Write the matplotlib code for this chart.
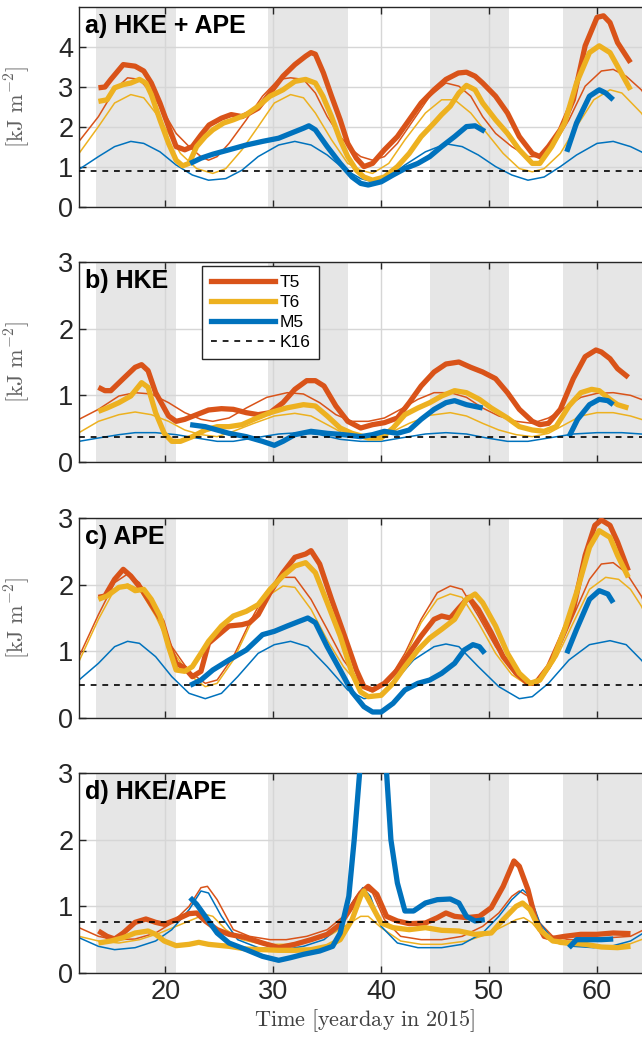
import matplotlib
matplotlib.use("Agg")
import matplotlib.pyplot as plt
from matplotlib.lines import Line2D

# spring-tide shading (yearday start, end)
bands = [(13.6, 21.0), (29.5, 36.9), (44.5, 51.8), (56.8, 65.5)]

# ---- a) HKE + APE -------------------------------------------------------
a_T5 = [(13.8, 2.98), (14.4, 3.00), (14.95, 3.19), (16.1, 3.56), (17.2, 3.52), (18.0, 3.40),
        (18.7, 3.10), (19.5, 2.60), (20.3, 2.01), (21.0, 1.51), (21.8, 1.43), (22.5, 1.51),
        (23.3, 1.80), (24.05, 2.05), (25.2, 2.22), (26.1, 2.31), (27.1, 2.26), (27.8, 2.35),
        (28.6, 2.47), (29.7, 2.85), (30.9, 3.27), (32.0, 3.56), (33.0, 3.77), (33.5, 3.86),
        (33.9, 3.82), (34.65, 3.35), (35.4, 2.77), (36.2, 2.18), (36.9, 1.59), (37.7, 1.22),
        (38.4, 1.01), (39.2, 1.09), (40.3, 1.43), (41.5, 1.76), (42.6, 2.18), (43.7, 2.60),
        (44.9, 2.93), (46.0, 3.19), (47.15, 3.35), (47.9, 3.37), (48.7, 3.27), (49.4, 3.10),
        (50.6, 2.77), (51.7, 2.35), (52.8, 1.76), (54.0, 1.34), (54.7, 1.26), (55.5, 1.51),
        (56.6, 1.93), (57.8, 2.68), (58.9, 4.03), (60.0, 4.74), (60.6, 4.78), (61.2, 4.61),
        (61.9, 4.11), (63.1, 3.61)]
a_T6 = [(13.8, 2.64), (14.6, 2.68), (15.3, 2.98), (16.1, 3.06), (16.8, 3.10), (17.6, 3.19),
        (18.2, 3.10), (18.7, 2.81), (19.5, 2.18), (20.3, 1.59), (21.0, 1.17), (21.6, 1.03),
        (22.2, 1.09), (22.9, 1.51), (23.7, 1.76), (24.4, 1.93), (25.4, 2.10), (26.3, 2.18),
        (27.5, 2.31), (28.6, 2.52), (29.7, 2.77), (30.9, 2.93), (32.0, 3.14), (33.0, 3.19),
        (33.9, 3.10), (34.6, 2.77), (35.4, 2.26), (36.2, 1.68), (36.9, 1.26), (37.7, 0.92),
        (38.4, 0.75), (39.2, 0.67), (40.3, 0.75), (41.5, 1.01), (42.6, 1.34), (43.7, 1.76),
        (44.9, 2.10), (45.6, 2.31), (46.4, 2.52), (47.2, 2.85), (47.9, 3.04), (48.7, 2.93),
        (49.4, 2.60), (50.6, 2.18), (51.7, 1.84), (52.8, 1.43), (54.0, 1.09), (54.7, 1.09),
        (55.8, 1.51), (57.0, 2.10), (58.1, 3.10), (59.3, 3.86), (60.2, 4.03), (61.2, 3.86),
        (61.9, 3.52), (63.1, 2.93)]
a_M5 = [(22.3, 1.09), (23.3, 1.22), (24.4, 1.32), (25.9, 1.43), (27.5, 1.55), (29.0, 1.64),
        (30.5, 1.72), (31.6, 1.84), (32.8, 1.97), (33.3, 2.03), (33.9, 1.93), (35.0, 1.51),
        (36.2, 1.09), (37.3, 0.75), (38.1, 0.59), (38.8, 0.55), (40.0, 0.63), (41.1, 0.80),
        (42.2, 0.96), (43.4, 1.09), (44.5, 1.26), (45.6, 1.51), (46.8, 1.76), (47.9, 2.01),
        (48.7, 2.03), (49.6, 1.89), (None, None),
        (57.2, 1.38), (58.1, 2.10), (59.3, 2.77), (60.2, 2.93), (60.8, 2.85), (61.5, 2.68)]
a_T5_fit = [(12.0, 1.64), (13.8, 2.26), (15.3, 2.93), (16.5, 3.23), (17.6, 3.19), (18.7, 2.85),
            (19.9, 2.35), (21.0, 1.84), (22.2, 1.51), (23.3, 1.26), (24.0, 1.17), (24.8, 1.26),
            (25.9, 1.59), (27.5, 2.18), (29.0, 2.77), (30.5, 3.19), (31.6, 3.23), (32.8, 3.19),
            (33.9, 2.85), (35.0, 2.26), (36.2, 1.76), (37.3, 1.43), (38.1, 1.26), (39.2, 1.17),
            (40.3, 1.26), (41.5, 1.59), (43.0, 2.18), (44.5, 2.77), (46.0, 3.10), (47.2, 3.02),
            (48.3, 2.77), (49.4, 2.26), (50.6, 1.84), (52.1, 1.51), (53.6, 1.26), (54.7, 1.26),
            (55.9, 1.51), (57.4, 2.18), (58.9, 3.02), (60.4, 3.40), (61.5, 3.44), (62.7, 3.27),
            (64.1, 2.93), (65.5, 2.40)]
a_T6_fit = [(12.0, 1.34), (13.8, 2.01), (15.3, 2.60), (16.8, 2.81), (18.0, 2.73), (19.1, 2.35),
            (20.3, 1.84), (21.4, 1.34), (22.9, 0.96), (24.4, 0.84), (25.6, 0.96), (27.1, 1.43),
            (28.6, 2.01), (30.1, 2.60), (31.6, 2.81), (32.8, 2.73), (33.9, 2.35), (35.4, 1.68),
            (36.9, 1.09), (38.1, 0.92), (39.2, 0.84), (40.7, 1.09), (42.2, 1.68), (44.1, 2.35),
            (45.6, 2.68), (46.8, 2.68), (48.3, 2.35), (49.8, 1.84), (51.3, 1.34), (52.8, 0.96),
            (54.0, 0.88), (55.1, 0.96), (56.6, 1.34), (58.1, 2.01), (59.7, 2.68), (61.2, 2.93),
            (62.3, 2.85), (64.1, 2.35), (65.5, 1.80)]
a_M5_fit = [(12.0, 0.94), (13.8, 1.26), (15.3, 1.51), (16.8, 1.64), (18.0, 1.59), (19.5, 1.38),
            (21.0, 1.05), (22.5, 0.80), (24.0, 0.67), (25.6, 0.71), (27.1, 0.92), (28.6, 1.26),
            (30.5, 1.55), (32.0, 1.64), (33.5, 1.55), (35.0, 1.30), (36.5, 0.96), (38.1, 0.71),
            (39.2, 0.63), (40.7, 0.75), (42.2, 1.05), (44.1, 1.38), (46.0, 1.58), (47.5, 1.51),
            (49.0, 1.30), (50.6, 1.01), (52.1, 0.80), (53.6, 0.67), (55.1, 0.75), (56.6, 1.01),
            (58.1, 1.30), (60.0, 1.59), (61.5, 1.64), (63.1, 1.51), (64.1, 1.38), (65.5, 1.15)]
a_K16 = 0.91

# ---- b) HKE ---------------------------------------------------------------
b_T5 = [(13.8, 1.12), (14.4, 1.07), (14.95, 1.07), (16.1, 1.25), (17.2, 1.42), (17.8, 1.46),
        (18.4, 1.37), (19.1, 1.04), (20.3, 0.69), (21.0, 0.61), (21.8, 0.64), (22.9, 0.71),
        (24.0, 0.78), (25.2, 0.80), (26.3, 0.79), (27.5, 0.74), (28.6, 0.71), (29.7, 0.74),
        (30.9, 0.89), (32.0, 1.09), (33.1, 1.22), (33.9, 1.22), (34.7, 1.14), (35.8, 0.84),
        (36.9, 0.61), (38.1, 0.51), (39.2, 0.56), (40.3, 0.59), (41.5, 0.66), (42.6, 0.89),
        (43.7, 1.14), (44.9, 1.35), (46.0, 1.47), (47.2, 1.50), (48.3, 1.42), (49.4, 1.35),
        (50.6, 1.25), (51.7, 1.04), (52.8, 0.79), (54.0, 0.61), (54.7, 0.56), (55.5, 0.58),
        (56.6, 0.79), (57.8, 1.25), (58.9, 1.58), (59.9, 1.68), (60.4, 1.65), (61.2, 1.55),
        (61.9, 1.40), (62.9, 1.27)]
b_T6 = [(13.8, 0.76), (14.6, 0.81), (15.7, 0.89), (16.8, 0.99), (17.8, 1.19), (18.4, 1.12),
        (19.1, 0.74), (19.9, 0.43), (20.6, 0.31), (21.4, 0.31), (22.5, 0.38), (23.7, 0.48),
        (24.8, 0.53), (25.9, 0.53), (27.1, 0.56), (28.2, 0.64), (29.7, 0.74), (31.2, 0.81),
        (32.8, 0.86), (33.9, 0.84), (35.0, 0.69), (36.2, 0.51), (37.3, 0.43), (38.8, 0.36),
        (40.0, 0.36), (41.1, 0.51), (42.2, 0.71), (43.4, 0.81), (44.5, 0.89), (45.6, 0.99),
        (46.8, 1.07), (47.9, 1.04), (49.1, 0.94), (50.2, 0.81), (51.7, 0.66), (52.8, 0.53),
        (54.0, 0.48), (55.1, 0.46), (56.2, 0.53), (57.4, 0.84), (58.5, 1.04), (59.5, 1.09),
        (60.2, 1.07), (61.2, 0.94), (61.9, 0.86), (62.9, 0.81)]
b_M5 = [(22.3, 0.56), (23.7, 0.53), (24.8, 0.48), (25.9, 0.43), (27.5, 0.38), (29.0, 0.31),
        (30.1, 0.25), (30.9, 0.31), (32.0, 0.41), (33.5, 0.46), (35.0, 0.43), (36.5, 0.41),
        (38.1, 0.38), (39.2, 0.41), (40.3, 0.46), (41.5, 0.43), (42.6, 0.48), (43.7, 0.64),
        (44.9, 0.79), (46.0, 0.89), (46.8, 0.92), (47.9, 0.86), (49.4, 0.81), (None, None),
        (57.4, 0.38), (58.2, 0.64), (59.3, 0.86), (60.2, 0.94), (61.0, 0.92), (61.5, 0.86)]
b_T5_fit = [(12.0, 0.64), (13.8, 0.79), (15.7, 0.99), (17.2, 1.04), (18.7, 1.02), (20.3, 0.89),
            (21.8, 0.74), (23.3, 0.64), (24.4, 0.61), (25.9, 0.66), (27.5, 0.81), (29.4, 0.97),
            (31.3, 1.04), (32.8, 1.02), (34.3, 0.89), (35.8, 0.71), (37.3, 0.61), (38.8, 0.61),
            (40.3, 0.66), (41.8, 0.79), (43.4, 0.94), (44.9, 1.04), (46.4, 1.04), (47.9, 0.97),
            (49.4, 0.81), (50.9, 0.69), (52.5, 0.61), (54.0, 0.58), (55.5, 0.66), (57.0, 0.81),
            (58.5, 0.97), (60.0, 1.03), (61.5, 1.04), (63.1, 1.00), (64.1, 0.94), (65.5, 0.85)]
b_T6_fit = [(12.0, 0.44), (13.8, 0.61), (15.7, 0.71), (17.2, 0.75), (18.7, 0.71), (20.3, 0.61),
            (21.8, 0.48), (23.3, 0.41), (24.8, 0.38), (26.3, 0.46), (28.2, 0.58), (30.1, 0.69),
            (32.0, 0.73), (33.5, 0.69), (35.0, 0.56), (36.5, 0.43), (38.1, 0.38), (39.6, 0.38),
            (41.1, 0.46), (42.6, 0.58), (44.5, 0.70), (46.4, 0.74), (47.9, 0.69), (49.4, 0.58),
            (50.9, 0.48), (52.5, 0.41), (54.0, 0.38), (55.5, 0.43), (57.0, 0.56), (58.5, 0.69),
            (60.0, 0.74), (61.5, 0.74), (63.1, 0.69), (64.1, 0.64), (65.5, 0.56)]
b_M5_fit = [(12.0, 0.31), (13.8, 0.36), (15.7, 0.41), (17.2, 0.44), (19.1, 0.44), (21.0, 0.41),
            (22.9, 0.36), (24.8, 0.31), (26.3, 0.31), (28.2, 0.36), (30.5, 0.42), (32.4, 0.44),
            (34.3, 0.41), (36.2, 0.34), (38.1, 0.31), (40.0, 0.31), (41.8, 0.36), (44.1, 0.42),
            (46.0, 0.44), (47.9, 0.42), (49.8, 0.36), (51.7, 0.31), (53.6, 0.31), (55.5, 0.36),
            (57.8, 0.42), (60.0, 0.44), (62.3, 0.44), (64.1, 0.42), (65.5, 0.39)]
b_K16 = 0.38

# ---- c) APE ---------------------------------------------------------------
c_T5 = [(13.8, 1.81), (14.4, 1.83), (15.3, 2.08), (16.1, 2.23), (16.8, 2.13), (17.8, 1.93),
        (18.7, 1.70), (19.7, 1.45), (20.4, 1.07), (21.0, 0.82), (21.8, 0.75), (22.5, 0.62),
        (23.3, 0.70), (24.0, 1.12), (24.8, 1.23), (25.9, 1.38), (27.1, 1.40), (27.8, 1.43),
        (28.6, 1.55), (29.7, 1.88), (30.9, 2.18), (32.0, 2.41), (33.0, 2.46), (33.5, 2.51),
        (34.3, 2.31), (35.4, 1.78), (36.5, 1.28), (37.7, 0.72), (38.4, 0.47), (39.2, 0.42),
        (40.3, 0.52), (41.5, 0.72), (42.6, 0.97), (43.7, 1.23), (44.9, 1.48), (45.6, 1.53),
        (46.4, 1.50), (47.2, 1.65), (48.1, 1.81), (49.0, 1.63), (50.2, 1.28), (51.3, 0.92),
        (52.5, 0.67), (53.6, 0.52), (54.3, 0.52), (55.5, 0.77), (56.6, 1.17), (57.8, 1.63),
        (58.9, 2.44), (59.8, 2.89), (60.4, 2.97), (61.2, 2.89), (61.9, 2.64), (62.9, 2.21)]
c_T6 = [(13.8, 1.78), (14.6, 1.83), (15.7, 1.96), (16.5, 1.98), (17.2, 1.91), (18.0, 1.93),
        (18.7, 1.78), (19.5, 1.53), (20.3, 1.07), (21.0, 0.72), (21.8, 0.70), (22.5, 0.77),
        (23.3, 0.97), (24.0, 1.15), (25.2, 1.38), (26.3, 1.53), (27.5, 1.60), (28.6, 1.70),
        (29.7, 1.93), (30.9, 2.13), (32.0, 2.28), (33.0, 2.33), (33.9, 2.18), (35.0, 1.73),
        (36.2, 1.23), (37.3, 0.67), (38.1, 0.39), (38.8, 0.32), (40.0, 0.34), (41.1, 0.52),
        (42.2, 0.77), (43.4, 1.02), (44.5, 1.20), (45.6, 1.33), (46.8, 1.48), (47.9, 1.78),
        (48.7, 1.86), (49.4, 1.73), (50.6, 1.38), (51.7, 0.97), (52.8, 0.67), (53.8, 0.52),
        (54.7, 0.57), (55.9, 0.87), (57.0, 1.33), (58.1, 1.88), (59.3, 2.56), (60.2, 2.81),
        (61.2, 2.71), (61.9, 2.44), (62.9, 2.11)]
c_M5 = [(22.3, 0.49), (23.3, 0.57), (24.4, 0.72), (25.9, 0.87), (27.5, 1.02), (29.0, 1.25),
        (30.1, 1.30), (31.3, 1.38), (32.4, 1.45), (33.2, 1.50), (33.9, 1.43), (35.0, 1.07),
        (36.2, 0.72), (37.3, 0.39), (38.4, 0.17), (39.2, 0.09), (40.0, 0.09), (41.1, 0.22),
        (42.2, 0.42), (43.4, 0.52), (44.5, 0.57), (45.6, 0.67), (46.8, 0.82), (47.7, 1.02),
        (48.5, 1.10), (49.1, 1.07), (49.6, 0.97), (None, None),
        (57.2, 0.97), (58.1, 1.33), (59.3, 1.78), (60.2, 1.91), (61.0, 1.86), (61.5, 1.73)]
c_T5_fit = [(12.0, 0.92), (13.8, 1.55), (15.3, 2.03), (16.5, 2.16), (17.6, 2.03), (19.1, 1.58),
            (20.6, 1.07), (22.2, 0.70), (23.7, 0.52), (24.8, 0.57), (26.3, 0.92), (27.8, 1.43),
            (29.3, 1.88), (30.9, 2.11), (32.0, 2.11), (33.5, 1.78), (35.0, 1.33), (36.5, 0.87),
            (38.1, 0.52), (39.2, 0.44), (40.7, 0.57), (42.2, 0.97), (43.7, 1.48), (45.2, 1.88),
            (46.4, 1.98), (47.5, 1.93), (49.0, 1.53), (50.6, 1.07), (52.1, 0.72), (53.6, 0.52),
            (54.7, 0.57), (56.3, 0.97), (57.8, 1.53), (59.3, 2.08), (60.4, 2.31), (61.5, 2.33),
            (62.7, 2.18), (64.1, 1.83), (65.5, 1.30)]
c_T6_fit = [(12.0, 0.85), (13.8, 1.48), (15.3, 1.93), (16.5, 2.01), (17.6, 1.93), (19.1, 1.53),
            (20.6, 1.02), (22.2, 0.65), (23.7, 0.47), (24.8, 0.52), (26.3, 0.87), (27.8, 1.38),
            (29.3, 1.81), (30.9, 1.98), (32.0, 1.96), (33.5, 1.63), (35.0, 1.17), (36.5, 0.77),
            (38.1, 0.47), (39.2, 0.39), (40.7, 0.54), (42.2, 0.92), (43.7, 1.43), (45.2, 1.78),
            (46.4, 1.86), (47.5, 1.81), (49.0, 1.43), (50.6, 0.97), (52.1, 0.65), (53.6, 0.49),
            (54.7, 0.54), (56.3, 0.92), (57.8, 1.43), (59.3, 1.93), (60.8, 2.11), (62.0, 2.08),
            (63.1, 1.93), (64.1, 1.68), (65.5, 1.20)]
c_M5_fit = [(12.0, 0.57), (13.8, 0.82), (15.3, 1.07), (16.5, 1.15), (17.6, 1.12), (19.1, 0.92),
            (20.6, 0.62), (22.2, 0.37), (23.7, 0.29), (25.2, 0.37), (26.7, 0.62), (28.6, 0.97),
            (30.1, 1.10), (31.6, 1.15), (33.2, 1.07), (35.0, 0.77), (36.9, 0.42), (38.4, 0.29),
            (39.6, 0.32), (41.1, 0.52), (43.0, 0.87), (44.9, 1.07), (46.0, 1.11), (47.2, 1.07),
            (49.0, 0.77), (50.9, 0.47), (52.8, 0.29), (54.0, 0.32), (55.5, 0.52), (57.4, 0.87),
            (59.3, 1.10), (61.2, 1.16), (62.7, 1.10), (64.1, 0.87), (65.5, 0.60)]
c_K16 = 0.49

# ---- d) HKE/APE -----------------------------------------------------------
d_T5 = [(13.8, 0.63), (14.6, 0.55), (15.3, 0.51), (16.1, 0.60), (17.2, 0.76), (18.2, 0.81),
        (19.1, 0.76), (19.9, 0.73), (21.0, 0.80), (22.2, 0.89), (22.9, 0.90), (23.7, 0.78),
        (24.8, 0.65), (25.9, 0.58), (27.5, 0.53), (29.0, 0.45), (30.5, 0.38), (32.0, 0.43),
        (33.5, 0.50), (35.0, 0.58), (36.2, 0.73), (37.3, 1.00), (38.1, 1.20), (38.8, 1.30),
        (39.6, 1.18), (40.5, 0.85), (41.5, 0.78), (42.6, 0.74), (44.1, 0.75), (45.2, 0.83),
        (46.0, 0.90), (46.8, 0.85), (47.9, 0.83), (49.1, 0.85), (50.2, 0.98), (51.3, 1.30),
        (52.3, 1.68), (52.8, 1.60), (53.6, 1.25), (54.3, 0.80), (55.1, 0.55), (55.9, 0.52),
        (57.0, 0.55), (58.5, 0.58), (60.0, 0.58), (61.5, 0.60), (63.1, 0.59)]
d_T6 = [(13.8, 0.45), (14.95, 0.48), (16.1, 0.53), (17.2, 0.60), (18.4, 0.63), (19.1, 0.58),
        (19.9, 0.48), (21.0, 0.41), (22.2, 0.43), (23.1, 0.46), (24.0, 0.43), (25.9, 0.40),
        (27.5, 0.36), (29.0, 0.35), (30.5, 0.34), (32.0, 0.34), (33.5, 0.35), (35.0, 0.40),
        (36.2, 0.50), (37.3, 0.80), (38.1, 1.15), (38.4, 1.23), (39.0, 1.05), (40.0, 0.75),
        (41.1, 0.68), (42.6, 0.65), (44.1, 0.68), (45.6, 0.64), (47.2, 0.63), (48.7, 0.58),
        (50.2, 0.60), (51.3, 0.80), (52.5, 1.00), (53.1, 1.05), (53.8, 0.95), (54.7, 0.65),
        (55.9, 0.48), (57.4, 0.45), (58.9, 0.43), (60.4, 0.39), (61.9, 0.38), (63.1, 0.40)]
d_M5 = [(22.3, 1.13), (22.9, 1.03), (23.7, 0.85), (24.8, 0.60), (25.9, 0.45), (27.5, 0.35),
        (29.0, 0.25), (30.5, 0.19), (31.6, 0.23), (32.8, 0.28), (34.3, 0.33), (35.5, 0.40),
        (36.2, 0.60), (37.0, 1.15), (37.5, 2.00), (38.0, 3.00), (38.5, 4.80), (39.4, 7.00),
        (40.3, 4.60), (40.5, 3.00), (40.9, 2.00), (41.5, 1.35), (42.2, 0.93), (43.0, 0.93),
        (44.1, 1.05), (45.2, 1.10), (46.4, 1.11), (47.2, 1.05), (47.9, 0.85), (48.7, 0.78),
        (49.6, 0.80), (None, None),
        (57.4, 0.38), (58.1, 0.50), (59.3, 0.50), (60.4, 0.50), (61.5, 0.51)]
d_T5_fit = [(12.0, 0.68), (13.8, 0.55), (15.3, 0.50), (17.2, 0.51), (19.1, 0.60), (20.6, 0.75),
            (22.2, 1.00), (23.3, 1.28), (23.9, 1.30), (24.8, 1.10), (26.3, 0.65), (27.8, 0.55),
            (29.7, 0.50), (31.2, 0.50), (33.1, 0.55), (35.0, 0.65), (36.5, 0.85), (37.7, 1.15),
            (38.4, 1.28), (39.2, 1.20), (40.3, 0.80), (41.8, 0.55), (43.7, 0.50), (45.6, 0.50),
            (47.5, 0.55), (49.4, 0.70), (50.9, 0.90), (52.1, 1.15), (52.8, 1.23), (53.6, 1.15),
            (54.7, 0.75), (55.9, 0.55), (57.4, 0.50), (59.3, 0.50), (61.2, 0.53), (63.1, 0.55),
            (64.1, 0.63), (65.5, 0.75)]
d_T6_fit = [(12.0, 0.55), (13.8, 0.48), (15.7, 0.45), (17.6, 0.50), (19.5, 0.60), (21.0, 0.70),
            (22.5, 0.80), (23.7, 0.88), (24.4, 0.85), (25.6, 0.65), (27.1, 0.50), (29.0, 0.43),
            (31.2, 0.43), (33.5, 0.48), (35.4, 0.58), (36.9, 0.73), (38.1, 0.85), (38.8, 0.85),
            (40.0, 0.68), (41.8, 0.48), (43.7, 0.43), (45.6, 0.43), (47.9, 0.48), (49.8, 0.58),
            (51.3, 0.70), (52.5, 0.80), (53.2, 0.83), (54.0, 0.75), (55.1, 0.53), (56.6, 0.43),
            (58.9, 0.40), (61.2, 0.40), (63.1, 0.44), (64.1, 0.50), (65.5, 0.58)]
d_M5_fit = [(12.0, 0.53), (13.8, 0.40), (15.3, 0.35), (17.2, 0.38), (19.1, 0.48), (20.6, 0.65),
            (22.2, 0.95), (23.3, 1.23), (24.0, 1.20), (25.2, 0.85), (26.7, 0.50), (28.6, 0.38),
            (30.9, 0.35), (32.8, 0.40), (34.7, 0.50), (36.2, 0.70), (37.3, 1.05), (38.3, 1.28),
            (39.0, 1.15), (40.0, 0.70), (41.5, 0.45), (43.4, 0.38), (45.6, 0.38), (47.5, 0.43),
            (49.4, 0.60), (50.9, 0.85), (52.1, 1.10), (53.1, 1.25), (53.8, 1.15), (54.7, 0.75),
            (55.9, 0.50), (57.8, 0.40), (59.7, 0.38), (61.5, 0.41), (63.1, 0.48), (64.1, 0.58),
            (65.5, 0.72)]
d_K16 = 0.77

panels = [
    ("a) HKE + APE", a_T5, a_T6, a_M5, a_T5_fit, a_T6_fit, a_M5_fit, a_K16, 5, [0, 1, 2, 3, 4]),
    ("b) HKE", b_T5, b_T6, b_M5, b_T5_fit, b_T6_fit, b_M5_fit, b_K16, 3, [0, 1, 2, 3]),
    ("c) APE", c_T5, c_T6, c_M5, c_T5_fit, c_T6_fit, c_M5_fit, c_K16, 3, [0, 1, 2, 3]),
    ("d) HKE/APE", d_T5, d_T6, d_M5, d_T5_fit, d_T6_fit, d_M5_fit, d_K16, 3, [0, 1, 2, 3]),
]

C_T5, C_T6, C_M5 = "#D95319", "#EDB120", "#0072BD"
AXC = "0.15"
DASH = (0, (3.5, 3.5))

plt.rcParams["font.family"] = ["Liberation Sans", "DejaVu Sans"]
plt.rcParams["mathtext.fontset"] = "cm"


def xy(pts):
    xs = [p[0] if p[0] is not None else float("nan") for p in pts]
    ys = [p[1] if p[1] is not None else float("nan") for p in pts]
    return xs, ys


fig = plt.figure(figsize=(6.42, 10.47), dpi=100)
W, H = 642.0, 1047.0
left_px, right_px = 79, 651
bottoms_px = [207, 462, 718, 973]
height_px = 200

axes = []
for i, (title, t5, t6, m5, t5f, t6f, m5f, k16, ytop, yticks) in enumerate(panels):
    ax = fig.add_axes([left_px / W, 1 - bottoms_px[i] / H,
                       (right_px - left_px) / W, height_px / H])
    axes.append(ax)
    for s, e in bands:
        ax.axvspan(s, e, color="0.9", lw=0, zorder=0)
    ax.set_axisbelow(True)
    ax.grid(True, color="0.84", lw=1.0)

    # model fits (thin)
    for pts, c in [(t5f, C_T5), (t6f, C_T6), (m5f, C_M5)]:
        ax.plot(*xy(pts), color=c, lw=1.1, zorder=2)
    # observations (thick)
    for pts, c in [(t5, C_T5), (t6, C_T6), (m5, C_M5)]:
        ax.plot(*xy(pts), color=c, lw=3.8, zorder=3, solid_capstyle="butt")
    ax.axhline(k16, color="k", ls=DASH, lw=1.2, zorder=4)

    ax.set_xlim(12, 65)
    ax.set_ylim(0, ytop)
    ax.set_yticks(yticks)
    ax.set_xticks([20, 30, 40, 50, 60])
    ax.tick_params(direction="in", length=5, width=1, color=AXC, labelsize=19.5,
                   labelcolor="0.15", top=True, right=True, pad=4)
    for sp in ax.spines.values():
        sp.set_color(AXC)
        sp.set_linewidth(1.0)
    ax.text(0.011, 0.965, title, transform=ax.transAxes, ha="left", va="top",
            fontsize=18, fontweight="bold", color="k", zorder=6)
    if i < 3:
        ax.set_xticklabels([])
        ax.set_ylabel(r"$[\mathrm{kJ\ m}^{-2}]$", fontsize=16, color="0.38")
        ax.yaxis.set_label_coords(-0.082, 0.5)
    else:
        ax.set_xlabel(r"$\mathrm{Time\ [yearday\ in\ 2015]}$", fontsize=16, color="0.25",
                      labelpad=2)

handles = [Line2D([], [], color=C_T5, lw=3.8),
           Line2D([], [], color=C_T6, lw=3.8),
           Line2D([], [], color=C_M5, lw=3.8),
           Line2D([], [], color="k", lw=1.2, ls=DASH)]
leg = axes[1].legend(handles, ["T5", "T6", "M5", "K16"], loc="upper left",
                     bbox_to_anchor=(0.215, 0.978), borderaxespad=0, fontsize=12.5,
                     handlelength=3.7, handletextpad=0.25, labelspacing=0.28,
                     borderpad=0.5, fancybox=False, framealpha=1, edgecolor="0.15")
leg.get_frame().set_linewidth(1.0)
leg.set_zorder(10)

fig.savefig("out.png", dpi=100)
